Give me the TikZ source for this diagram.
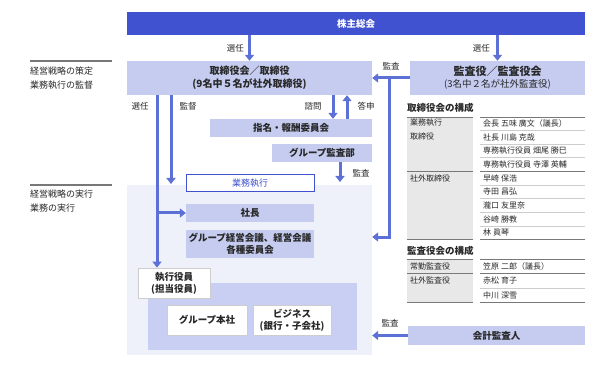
\documentclass[tikz,border=0pt]{standalone}
\usepackage{fontspec}
\setmainfont{Noto Sans CJK JP}
\usetikzlibrary{arrows.meta,calc}
\definecolor{dblue}{RGB}{64,82,208}
\definecolor{lblue}{RGB}{197,204,240}
\definecolor{ablue}{RGB}{92,112,214}
\definecolor{pale}{RGB}{238,240,250}
\definecolor{innerb}{RGB}{200,207,242}
\definecolor{tgray}{RGB}{232,232,232}
\definecolor{txt}{RGB}{40,40,40}
\definecolor{ldark}{RGB}{120,120,120}
\definecolor{llight}{RGB}{205,205,205}
\begin{document}
\begin{tikzpicture}[x=1pt,y=-1pt,
  box/.style={rectangle,inner sep=0pt,align=center,text=txt},
  lbox/.style={box,fill=lblue},
  wbox/.style={box,fill=white,draw=llight,line width=0.8pt},
  arr/.style={draw=ablue,line width=3pt,-{Triangle[width=9pt,length=6pt]}},
  lab/.style={text=txt,font=\fontsize{8.5}{9}\selectfont,inner sep=0pt},
  tt/.style={text=txt,font=\fontsize{8}{9}\selectfont,inner sep=0pt,anchor=west},
  thead/.style={text=txt,font=\fontsize{9.5}{10}\selectfont\bfseries,inner sep=0pt,anchor=west},
  dline/.style={draw=ldark,line width=0.9pt},
  tline/.style={draw=llight,line width=0.6pt},
  side/.style={text=txt,font=\fontsize{9}{14}\selectfont,inner sep=0pt,anchor=north west,align=left}
]
\useasboundingbox (0,0) rectangle (604,379);

% left side labels
\draw[draw=ldark,line width=1.2pt] (30,61) -- (112,61);
\node[side] (s1) at (30,67) {経営戦略の策定\\業務執行の監督};
\draw[draw=ldark,line width=1.2pt] (30,185) -- (112,185);
\node[side] (s2) at (30,190) {経営戦略の実行\\業務の実行};

% top
\node[box,fill=dblue,text=white,minimum width=458,minimum height=23,font=\fontsize{9.5}{12}\selectfont\bfseries] (soukai) at (356,23.5) {株主総会};
\node[lbox,minimum width=245,minimum height=34,font=\fontsize{10}{13.5}\selectfont\bfseries] (board) at (249.5,78) {取締役会／取締役\\(9名中５名が社外取締役)};
\node[lbox,minimum width=175,minimum height=34] (kansa) at (497.5,78) {{\fontsize{11}{14}\selectfont\bfseries 監査役／監査役会}\\{\fontsize{9.5}{12}\selectfont (3名中２名が社外監査役)}};

\draw[arr] (soukai.south -| board.north) -- (board.north);
\node[lab,anchor=east] (l1) at (244,48) {選任};
\draw[arr] (soukai.south -| kansa.north) -- (kansa.north);
\node[lab,anchor=east] (l2) at (490,48) {選任};

% committees
\node[lbox,minimum width=162,minimum height=18,font=\fontsize{9.5}{12}\selectfont\bfseries] (shimei) at (291,128) {指名・報酬委員会};
\node[lbox,minimum width=100,minimum height=18,font=\fontsize{9.5}{12}\selectfont\bfseries] (audit) at (322,153) {グループ監査部};

\coordinate (cq) at (333,0);
\coordinate (ca) at (347,0);
\draw[arr] (board.south -| cq) -- (shimei.north -| cq);
\draw[arr] (shimei.north -| ca) -- (board.south -| ca);
\node[lab] (l3) at (313,106) {諮問};
\node[lab] (l4) at (366,106) {答申};

% execution area
\node[box,fill=pale,minimum width=245,minimum height=170] (execbg) at (249.5,270) {};
\node[box,fill=innerb,minimum width=209,minimum height=67] (inner) at (252.5,316.5) {};

\node[box,fill=white,draw=dblue,line width=1pt,text=dblue,minimum width=128,minimum height=17,font=\fontsize{9}{10}\selectfont] (gyomu) at (250,183.5) {業務執行};
\node[lbox,minimum width=128,minimum height=18,font=\fontsize{9.5}{12}\selectfont\bfseries] (shacho) at (250,213) {社長};
\node[lbox,minimum width=128,minimum height=28,font=\fontsize{9.5}{12}\selectfont\bfseries] (kaigi) at (250,244) {グループ経営会議、経営会議\\各種委員会};
\node[wbox,minimum width=72,minimum height=30,font=\fontsize{9.5}{12}\selectfont\bfseries] (yakuin) at (174,283) {執行役員\\(担当役員)};
\node[wbox,minimum width=80,minimum height=30,font=\fontsize{9.5}{12}\selectfont\bfseries] (honsha) at (207,320) {グループ本社};
\node[wbox,minimum width=78,minimum height=30,font=\fontsize{9.5}{12}\selectfont\bfseries] (biz) at (292,320) {ビジネス\\(銀行・子会社)};

% audit dept arrow
\coordinate (cd) at (340,182);
\draw[arr] (audit.south -| cd) -- (cd);
\node[lab] (l5) at (361,173) {監査};

% board -> execution
\coordinate (cs) at (157,0);
\coordinate (cm) at (171,184);
\draw[arr] (board.south -| cs) -- (yakuin.north -| cs);
\draw[arr] (cs |- shacho.west) -- (shacho.west);
\draw[arr] (board.south -| cm) -- (cm);
\node[lab] (l6) at (140,106) {選任};
\node[lab] (l7) at (188,106) {監督};

% kansa -> board and execution
\draw[arr] (kansa.west) -- (board.east);
\node[lab] (l8) at (391,66) {監査};
\coordinate (cj) at (389,78);
\coordinate (ck) at (389,237);
\draw[arr] (cj) -- (ck) -- (execbg.east |- ck);

% kaikei
\node[lbox,minimum width=177,minimum height=19,font=\fontsize{9.5}{12}\selectfont\bfseries] (kaikei) at (496.5,335.5) {会計監査人};
\draw[arr] (kaikei.west) -- (execbg.east |- kaikei.west);
\node[lab] (l9) at (390,323) {監査};

% table 1
\node[thead] (h1) at (407,108) {取締役会の構成};
\fill[tgray] (407,117) rectangle (473,239.4);
\foreach \i in {1,2,3,5,6,7,8} {
  \draw[tline] (480,{117+13.6*\i}) -- (585,{117+13.6*\i});
}
\draw[dline] (407,117) -- (473,117);
\draw[dline] (480,117) -- (585,117);
\draw[dline] (407,171.4) -- (473,171.4);
\draw[dline] (480,171.4) -- (585,171.4);
\draw[dline] (407,239.4) -- (473,239.4);
\draw[dline] (480,239.4) -- (585,239.4);
\node[tt,anchor=north west,align=left,font=\fontsize{8}{13.6}\selectfont] (c1) at (410,119) {業務執行\\取締役};
\node[tt] (c2) at (410,178.2) {社外取締役};
\node[tt] (r1) at (483,123.8) {会長 五味 廣文（議長）};
\node[tt] (r2) at (483,137.4) {社長 川島 克哉};
\node[tt] (r3) at (483,151.0) {専務執行役員 畑尾 勝巳};
\node[tt] (r4) at (483,164.6) {専務執行役員 寺澤 英輔};
\node[tt] (r5) at (483,178.2) {早崎 保浩};
\node[tt] (r6) at (483,191.8) {寺田 昌弘};
\node[tt] (r7) at (483,205.4) {瀧口 友里奈};
\node[tt] (r8) at (483,219.0) {谷崎 勝教};
\node[tt] (r9) at (483,232.6) {林 眞琴};

% table 2
\node[thead] (h2) at (407,251) {監査役会の構成};
\fill[tgray] (407,259) rectangle (473,302.5);
\draw[tline] (480,288) -- (585,288);
\draw[dline] (407,259) -- (473,259);
\draw[dline] (480,259) -- (585,259);
\draw[dline] (407,273.5) -- (473,273.5);
\draw[dline] (480,273.5) -- (585,273.5);
\draw[dline] (407,302.5) -- (473,302.5);
\draw[dline] (480,302.5) -- (585,302.5);
\node[tt] (d1) at (410,266.2) {常勤監査役};
\node[tt] (d2) at (410,280.7) {社外監査役};
\node[tt] (e1) at (483,266.2) {笠原 二郎（議長）};
\node[tt] (e2) at (483,280.7) {赤松 育子};
\node[tt] (e3) at (483,295.2) {中川 深雪};
\end{tikzpicture}
\end{document}
